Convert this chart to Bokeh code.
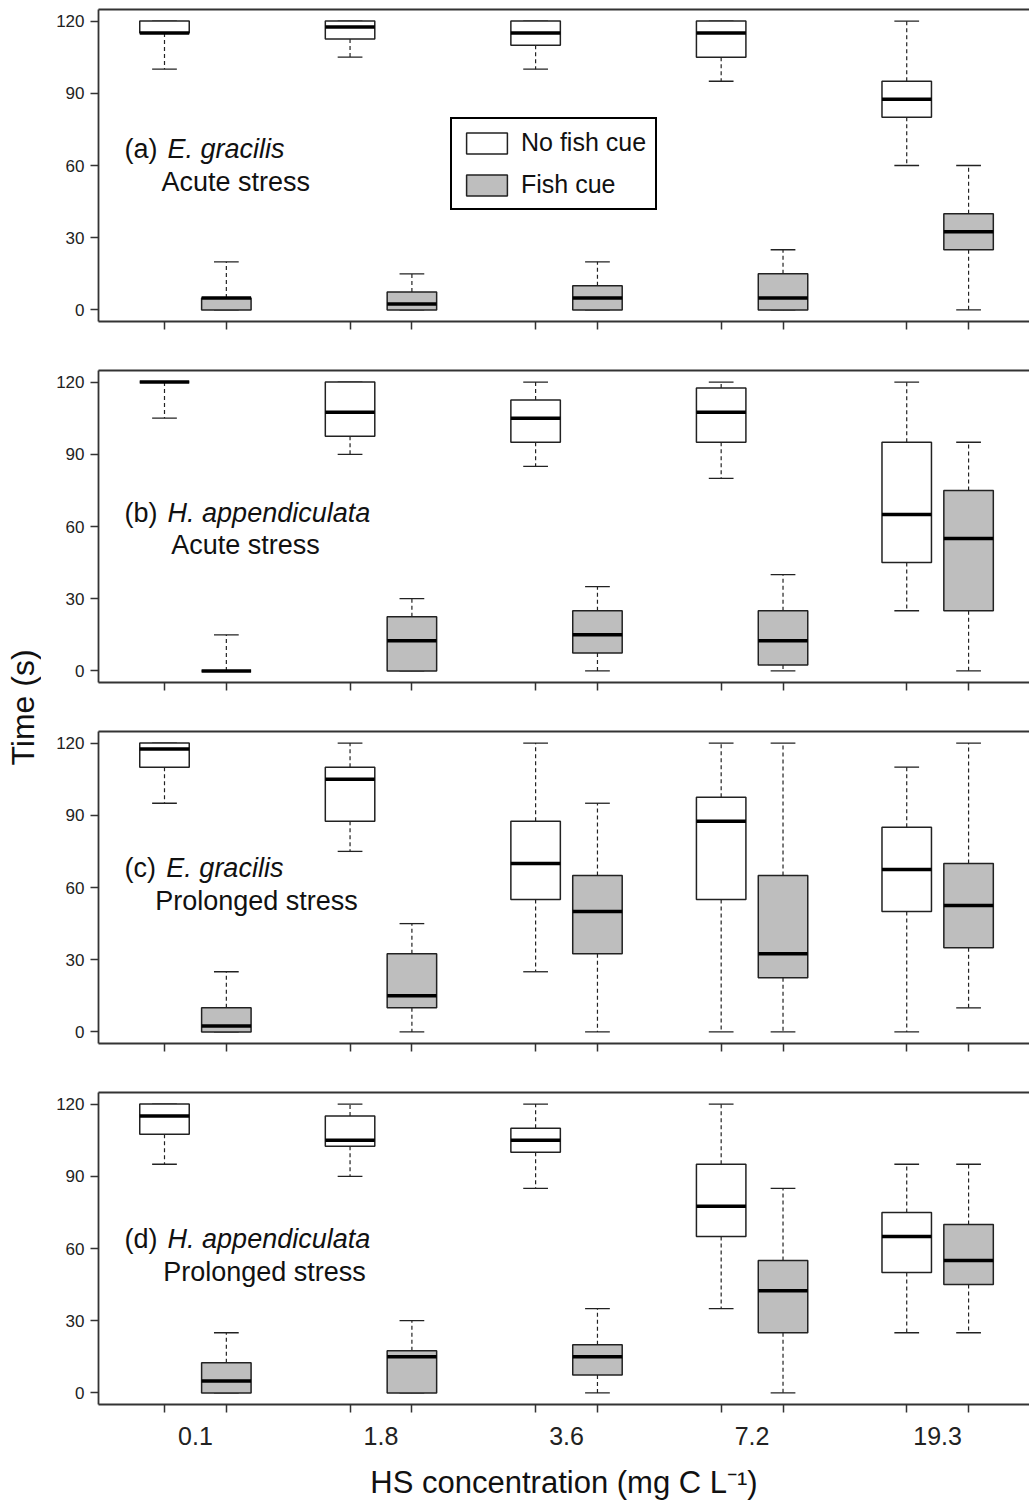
import math
from bokeh.plotting import figure
from bokeh.layouts import column, row
from bokeh.models import (Range1d, FixedTicker, Legend, LegendItem,
                          ColumnDataSource, Label, LinearAxis)
from bokeh.embed import file_html
from bokeh.resources import INLINE

# ---------------- data ----------------
concentrations = ["0.1", "1.8", "3.6", "7.2", "19.3"]
group_labels = ["No fish cue", "Fish cue"]
y_ticks = [0, 30, 60, 90, 120]
panel_tags = ["(a)", "(b)", "(c)", "(d)"]
panel_species = ["E. gracilis", "H. appendiculata", "E. gracilis", "H. appendiculata"]
panel_stress = ["Acute stress", "Acute stress", "Prolonged stress", "Prolonged stress"]

# per concentration: [lower whisker, Q1, median, Q3, upper whisker]
a_nofish = [[100, 115, 115, 120, 120], [105, 112.5, 117.5, 120, 120],
            [100, 110, 115, 120, 120], [95, 105, 115, 120, 120], [60, 80, 87.5, 95, 120]]
a_fish = [[0, 0, 5, 5, 20], [0, 0, 2.5, 7.5, 15], [0, 0, 5, 10, 20],
          [0, 0, 5, 15, 25], [0, 25, 32.5, 40, 60]]

b_nofish = [[105, 120, 120, 120, 120], [90, 97.5, 107.5, 120, 120],
            [85, 95, 105, 112.5, 120], [80, 95, 107.5, 117.5, 120], [25, 45, 65, 95, 120]]
b_fish = [[0, 0, 0, 0, 15], [0, 0, 12.5, 22.5, 30], [0, 7.5, 15, 25, 35],
          [0, 2.5, 12.5, 25, 40], [0, 25, 55, 75, 95]]

c_nofish = [[95, 110, 117.5, 120, 120], [75, 87.5, 105, 110, 120],
            [25, 55, 70, 87.5, 120], [0, 55, 87.5, 97.5, 120], [0, 50, 67.5, 85, 110]]
c_fish = [[0, 0, 2.5, 10, 25], [0, 10, 15, 32.5, 45], [0, 32.5, 50, 65, 95],
          [0, 22.5, 32.5, 65, 120], [10, 35, 52.5, 70, 120]]

d_nofish = [[95, 107.5, 115, 120, 120], [90, 102.5, 105, 115, 120],
            [85, 100, 105, 110, 120], [35, 65, 77.5, 95, 120], [25, 50, 65, 75, 95]]
d_fish = [[0, 0, 5, 12.5, 25], [0, 0, 15, 17.5, 30], [0, 7.5, 15, 20, 35],
          [0, 25, 42.5, 55, 85], [25, 45, 55, 70, 95]]

panels = [(a_nofish, a_fish), (b_nofish, b_fish), (c_nofish, c_fish), (d_nofish, d_fish)]

# ---------------- style ----------------
FONT = "Liberation Sans"
LINE = "#222222"
AXIS = "#333333"
FILLS = ["#FFFFFF", "#BEBEBE"]

TITLE_W = 41
TOTAL_W = 1029
PANEL_W = TOTAL_W - TITLE_W
LEFT_B = 57
TOP_B = 9
FRAME_H = 312
MID_B = 40
LAST_B = 100
TOTAL_H = 3 * (TOP_B + FRAME_H + MID_B) + TOP_B + FRAME_H + LAST_B

X_LO, X_HI = -0.067, 14.985
Y_LO, Y_HI = -4.8, 124.8

# label positions (data units): tag x, species x, stress x, line1 y, line2 y
label_pos = [
    (0.353, 1.05, 0.95, 67.0, 53.3),
    (0.353, 1.05, 1.11, 65.8, 52.5),
    (0.353, 1.03, 0.85, 67.9, 54.6),
    (0.353, 1.05, 0.98, 64.1, 50.4),
]


def box_source(stats, offset):
    pos = [3 * i + offset for i in range(len(stats))]
    lo, q1, med, q3, hi = (list(t) for t in zip(*stats))
    return ColumnDataSource(dict(
        x=pos, left=[p - 0.4 for p in pos], right=[p + 0.4 for p in pos],
        cl=[p - 0.2 for p in pos], cr=[p + 0.2 for p in pos],
        lo=lo, q1=q1, med=med, q3=q3, hi=hi))


figs = []
for k, (nofish, fish) in enumerate(panels):
    last = k == len(panels) - 1
    h = TOP_B + FRAME_H + (LAST_B if last else MID_B)
    p = figure(width=PANEL_W, height=h, x_range=Range1d(X_LO, X_HI),
               y_range=Range1d(Y_LO, Y_HI), output_backend="svg",
               toolbar_location=None, min_border_left=LEFT_B, min_border_right=0,
               min_border_top=TOP_B, min_border_bottom=(LAST_B if last else MID_B))
    p.outline_line_color = None
    p.grid.visible = False

    # y axis
    p.yaxis.ticker = FixedTicker(ticks=y_ticks)
    p.yaxis.major_tick_out = 8
    p.yaxis.major_tick_in = 0
    p.yaxis.minor_tick_out = 0
    p.yaxis.minor_tick_in = 0
    p.yaxis.major_label_standoff = 6
    p.yaxis.major_label_text_font = FONT
    p.yaxis.major_label_text_font_size = "17px"
    p.yaxis.major_label_text_color = LINE
    p.yaxis.axis_line_color = AXIS
    p.yaxis.axis_line_width = 1.8
    p.yaxis.major_tick_line_color = AXIS
    p.yaxis.major_tick_line_width = 1.5

    # x axis: ticks at each box, labels centred under each pair
    positions = [3 * i + off for i in range(len(concentrations)) for off in (1, 2)]
    centers = [3 * i + 1.5 for i in range(len(concentrations))]
    p.xaxis.ticker = FixedTicker(ticks=(centers if last else []), minor_ticks=positions)
    p.xaxis.major_tick_out = 0
    p.xaxis.major_tick_in = 0
    p.xaxis.minor_tick_out = 8
    p.xaxis.minor_tick_in = 0
    p.xaxis.minor_tick_line_color = AXIS
    p.xaxis.minor_tick_line_width = 1.5
    p.xaxis.axis_line_color = AXIS
    p.xaxis.axis_line_width = 1.8
    if last:
        p.xaxis.major_label_overrides = {c: lab for c, lab in zip(centers, concentrations)}
        p.xaxis.major_label_text_font = FONT
        p.xaxis.major_label_text_font_size = "25px"
        p.xaxis.major_label_text_color = LINE
        p.xaxis.major_label_standoff = 14
        p.xaxis.axis_label = "HS concentration (mg C L\u207b\u00b9)"
        p.xaxis.axis_label_text_font = FONT
        p.xaxis.axis_label_text_font_size = "31px"
        p.xaxis.axis_label_text_font_style = "normal"
        p.xaxis.axis_label_text_color = "#111111"
        p.xaxis.axis_label_standoff = 17

    top = LinearAxis(ticker=FixedTicker(ticks=[]), major_tick_out=0, major_tick_in=0,
                     minor_tick_out=0, minor_tick_in=0, major_label_standoff=0,
                     axis_line_color=AXIS, axis_line_width=1.8)
    p.add_layout(top, "above")

    renderers = []
    for g, (stats, off) in enumerate(((nofish, 1), (fish, 2))):
        src = box_source(stats, off)
        wk = dict(line_color=LINE, line_width=1.2, line_dash="4 3")
        p.segment(x0="x", y0="q3", x1="x", y1="hi", source=src, **wk)
        p.segment(x0="x", y0="q1", x1="x", y1="lo", source=src, **wk)
        cap = dict(line_color=LINE, line_width=1.3)
        p.segment(x0="cl", y0="hi", x1="cr", y1="hi", source=src, **cap)
        p.segment(x0="cl", y0="lo", x1="cr", y1="lo", source=src, **cap)
        r = p.quad(left="left", right="right", bottom="q1", top="q3", source=src,
                   fill_color=FILLS[g], line_color=LINE, line_width=1.5)
        p.segment(x0="left", y0="med", x1="right", y1="med", source=src,
                  line_color="black", line_width=3.5)
        renderers.append(r)

    tx, sx, stx, y1, y2 = label_pos[k]
    lab = dict(text_font=FONT, text_font_size="27px", text_color="#111111",
               text_baseline="alphabetic", text_align="left")
    p.add_layout(Label(x=tx, y=y1, text=panel_tags[k], **lab))
    p.add_layout(Label(x=sx, y=y1, text=panel_species[k], text_font_style="italic", **lab))
    p.add_layout(Label(x=stx, y=y2, text=panel_stress[k], **lab))

    if k == 0:
        legend = Legend(items=[LegendItem(label=group_labels[0], renderers=[renderers[0]]),
                               LegendItem(label=group_labels[1], renderers=[renderers[1]])],
                        location=(352, 111), orientation="vertical")
        legend.border_line_color = "black"
        legend.border_line_alpha = 1.0
        legend.border_line_width = 2
        legend.background_fill_color = "white"
        legend.background_fill_alpha = 1
        legend.padding = 9
        legend.margin = 0
        legend.spacing = 13
        legend.glyph_width = 51
        legend.glyph_height = 26
        legend.label_standoff = 9
        legend.label_text_font = FONT
        legend.label_text_font_size = "25px"
        legend.label_text_color = "#111111"
        legend.label_height = 26
        p.add_layout(legend)

    figs.append(p)

# shared y-axis title, drawn as the axis label of a narrow blank figure
TITLE_CENTER_Y = 707
tf = figure(width=TITLE_W, height=TOTAL_H, x_range=Range1d(0, 1), y_range=Range1d(0, 1),
            output_backend="svg", toolbar_location=None,
            x_axis_type=None, y_axis_type=None,
            min_border_left=TITLE_W - 1, min_border_right=0, min_border_top=0,
            min_border_bottom=TOTAL_H - 2 * TITLE_CENTER_Y)
tf.outline_line_color = None
tf.grid.visible = False
tax = LinearAxis(ticker=FixedTicker(ticks=[]), major_tick_out=0, major_tick_in=0,
                 minor_tick_out=0, minor_tick_in=0, major_label_standoff=0,
                 axis_line_color=None, axis_label="Time (s)",
                 axis_label_text_font=FONT, axis_label_text_font_size="32px",
                 axis_label_text_font_style="normal", axis_label_text_color="#111111",
                 axis_label_standoff=0)
tf.add_layout(tax, "left")

layout = row(tf, column(*figs))
open("out.html", "w").write(file_html(layout, INLINE))
